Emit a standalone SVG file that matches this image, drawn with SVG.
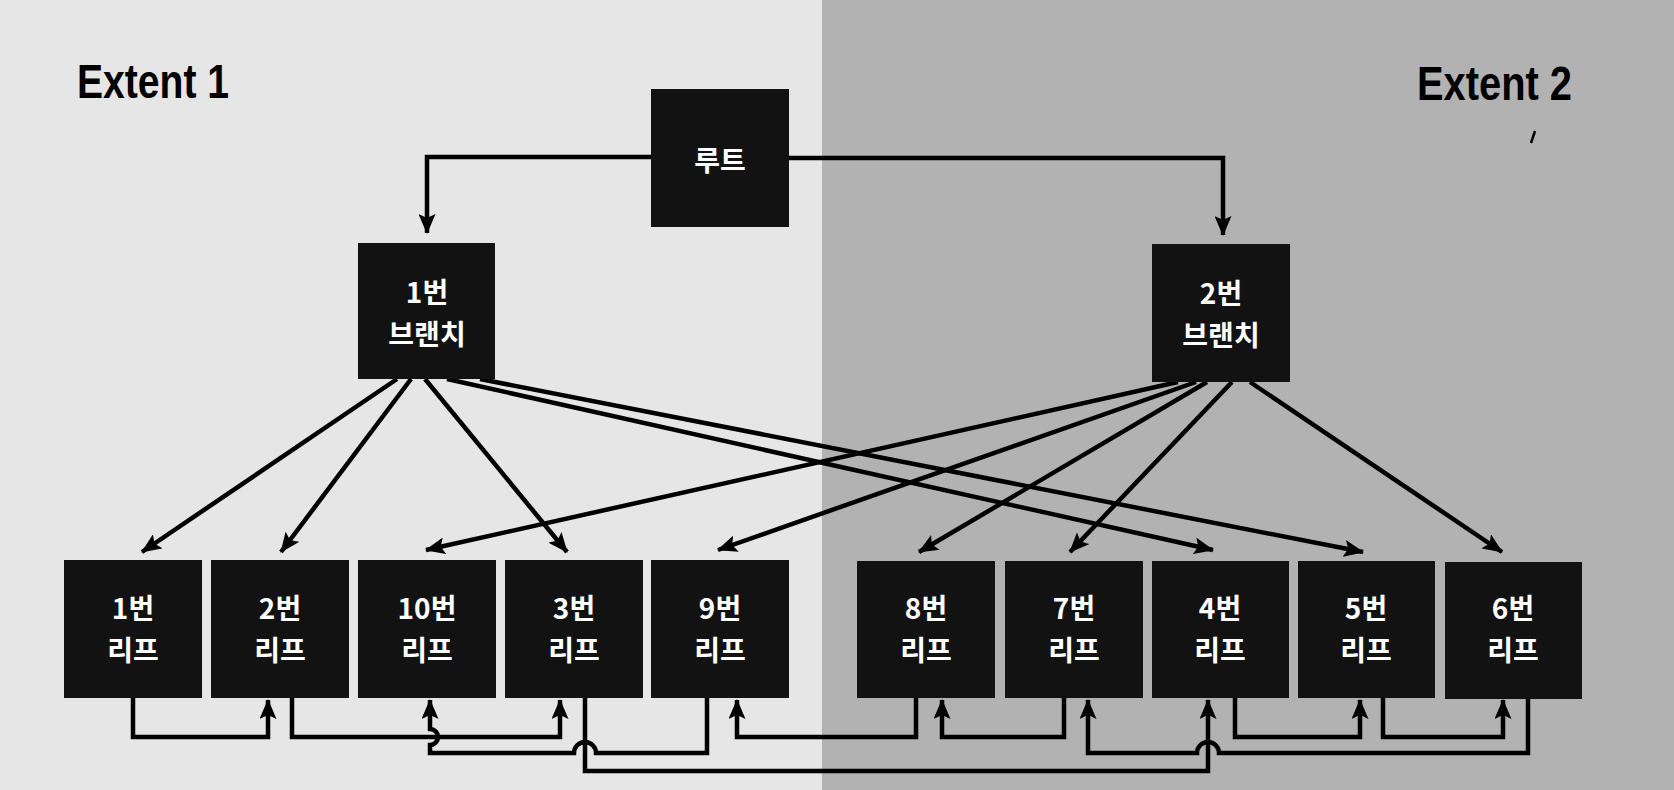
<svg xmlns="http://www.w3.org/2000/svg" width="1674" height="790" viewBox="0 0 1674 790">
<style>
.node{fill:#121212}
.lbl{fill:#ffffff;font-family:"Noto Sans CJK KR","Noto Sans",sans-serif;font-weight:bold;font-size:28px;text-anchor:middle}
.ext{fill:#000;font-family:"Liberation Sans",Arial,sans-serif;font-weight:bold;font-size:48px}
.ln{fill:none;stroke:#000;stroke-width:4.5;stroke-linejoin:miter}
</style>
<defs>
<marker id="ah" viewBox="0 0 20 17" markerWidth="20" markerHeight="17" refX="19" refY="8.5" orient="auto" markerUnits="userSpaceOnUse">
<path d="M0,0 L20,8.5 L0,17 L4,8.5 z" fill="#000"/>
</marker>
</defs>
<rect x="0" y="0" width="822" height="790" fill="#e6e6e6"/>
<rect x="822" y="0" width="852" height="790" fill="#b2b2b2"/>
<text class="ext" x="77" y="98" textLength="152" lengthAdjust="spacingAndGlyphs">Extent 1</text>
<text class="ext" x="1417" y="100" textLength="155" lengthAdjust="spacingAndGlyphs">Extent 2</text>
<line x1="1531" y1="143" x2="1535" y2="131" stroke="#000" stroke-width="2.5"/>

<g id="connectors">
<path class="ln" d="M651 157 H427 V233" marker-end="url(#ah)"/>
<path class="ln" d="M789 158 H1223 V235" marker-end="url(#ah)"/>
<path class="ln" d="M397 379 L142 552" marker-end="url(#ah)"/>
<path class="ln" d="M411 379 L281 552" marker-end="url(#ah)"/>
<path class="ln" d="M425 379 L567 552" marker-end="url(#ah)"/>
<path class="ln" d="M447 379 L1213 550" marker-end="url(#ah)"/>
<path class="ln" d="M480 379 L1363 552" marker-end="url(#ah)"/>
<path class="ln" d="M1178 382 L426 550" marker-end="url(#ah)"/>
<path class="ln" d="M1196 382 L718 550" marker-end="url(#ah)"/>
<path class="ln" d="M1207 382 L919 552" marker-end="url(#ah)"/>
<path class="ln" d="M1232 382 L1070 552" marker-end="url(#ah)"/>
<path class="ln" d="M1250 382 L1502 552" marker-end="url(#ah)"/>
<path class="ln" d="M133 698 V737 H268 V700" marker-end="url(#ah)"/>
<path class="ln" d="M292 698 V737 H560 V700" marker-end="url(#ah)"/>
<path class="ln" d="M585 698 V771 H1208 V700" marker-end="url(#ah)"/>
<path class="ln" d="M1235 698 V737 H1360 V700" marker-end="url(#ah)"/>
<path class="ln" d="M1383 698 V737 H1503 V700" marker-end="url(#ah)"/>
<path class="ln" d="M1528 698 V753 H1219 A11 11 0 0 0 1197 753 H1088 V700" marker-end="url(#ah)"/>
<path class="ln" d="M1064 698 V737 H942 V700" marker-end="url(#ah)"/>
<path class="ln" d="M916 698 V737 H737 V700" marker-end="url(#ah)"/>
<path class="ln" d="M707 698 V753 H596 A11 11 0 0 0 574 753 H430 V745 A8 8 0 0 0 430 729 V700" marker-end="url(#ah)"/>
</g>

<g id="root"><rect class="node" x="651" y="89" width="138" height="138"/><text class="lbl" x="720" y="171" font-size="30">루트</text></g>
<g id="branch1"><rect class="node" x="358" y="243" width="137" height="136"/><text class="lbl" x="427" y="303">1번</text><text class="lbl" x="427" y="345">브랜치</text></g>
<g id="branch2"><rect class="node" x="1152" y="244" width="138" height="138"/><text class="lbl" x="1221" y="304">2번</text><text class="lbl" x="1221" y="346">브랜치</text></g>

<g id="leaf1"><rect class="node" x="64" y="560" width="138" height="138"/><text class="lbl" x="133" y="619">1번</text><text class="lbl" x="133" y="661">리프</text></g>
<g id="leaf2"><rect class="node" x="211" y="560" width="138" height="138"/><text class="lbl" x="280" y="619">2번</text><text class="lbl" x="280" y="661">리프</text></g>
<g id="leaf10"><rect class="node" x="358" y="560" width="138" height="138"/><text class="lbl" x="427" y="619">10번</text><text class="lbl" x="427" y="661">리프</text></g>
<g id="leaf3"><rect class="node" x="505" y="560" width="138" height="138"/><text class="lbl" x="574" y="619">3번</text><text class="lbl" x="574" y="661">리프</text></g>
<g id="leaf9"><rect class="node" x="651" y="560" width="138" height="138"/><text class="lbl" x="720" y="619">9번</text><text class="lbl" x="720" y="661">리프</text></g>
<g id="leaf8"><rect class="node" x="857" y="561" width="138" height="137"/><text class="lbl" x="926" y="619">8번</text><text class="lbl" x="926" y="661">리프</text></g>
<g id="leaf7"><rect class="node" x="1005" y="561" width="138" height="137"/><text class="lbl" x="1074" y="619">7번</text><text class="lbl" x="1074" y="661">리프</text></g>
<g id="leaf4"><rect class="node" x="1152" y="561" width="137" height="137"/><text class="lbl" x="1220" y="619">4번</text><text class="lbl" x="1220" y="661">리프</text></g>
<g id="leaf5"><rect class="node" x="1298" y="561" width="137" height="137"/><text class="lbl" x="1366" y="619">5번</text><text class="lbl" x="1366" y="661">리프</text></g>
<g id="leaf6"><rect class="node" x="1445" y="562" width="137" height="137"/><text class="lbl" x="1513" y="619">6번</text><text class="lbl" x="1513" y="661">리프</text></g>
</svg>
